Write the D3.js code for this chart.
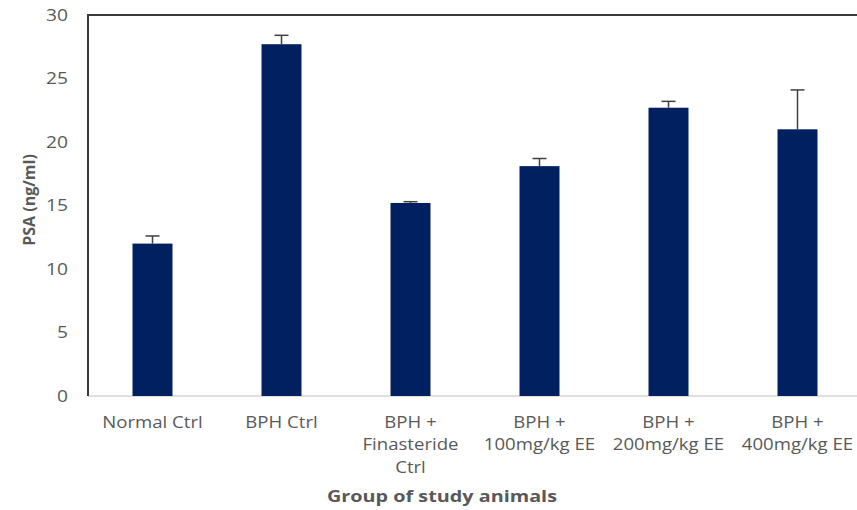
<!DOCTYPE html>
<html>
<head>
<meta charset="utf-8">
<script src="https://cdn.jsdelivr.net/npm/d3@7"></script>
<style>
  html, body { margin: 0; padding: 0; background: #fff; }
  svg { display: block; }
</style>
</head>
<body>
<div id="chart"></div>
<script>
// Serum PSA by study group, mean with error bars
const categories = [
  ["Normal Ctrl"],
  ["BPH Ctrl"],
  ["BPH +", "Finasteride", "Ctrl"],
  ["BPH +", "100mg/kg EE"],
  ["BPH +", "200mg/kg EE"],
  ["BPH +", "400mg/kg EE"]
];
const psaMean = [12.0, 27.7, 15.2, 18.1, 22.7, 21.0];
const psaError = [0.6, 0.7, 0.1, 0.6, 0.5, 3.1];
const yTicks = [0, 5, 10, 15, 20, 25, 30];

const W = 857, H = 510;
const plotLeft = 88, plotTop = 15, plotBottom = 396, plotRight = 862;

const svg = d3.select("#chart").append("svg")
  .attr("width", W).attr("height", H);

const keys = categories.map(c => c.join(" "));
const x = d3.scaleBand().domain(keys).range([plotLeft, plotRight])
  .paddingInner(0.69).paddingOuter(0.345);
const y = d3.scaleLinear().domain([0, 30]).range([plotBottom, plotTop]);

const labelColor = "#595959";
const font = "'Open Sans', 'Liberation Sans', sans-serif";
const stretch = 1.2; // wide lettering

// y tick labels
const yl = svg.append("g");
yTicks.forEach(v => {
  yl.append("text")
    .attr("transform", `translate(68,${y(v)}) scale(${stretch},1)`)
    .attr("text-anchor", "end")
    .attr("dy", "0.35em")
    .attr("fill", labelColor)
    .style("font-family", font)
    .style("font-size", "16px")
    .text(d3.format("d")(v));
});

// baseline
svg.append("line")
  .attr("x1", plotLeft).attr("x2", W)
  .attr("y1", y(0)).attr("y2", y(0))
  .attr("stroke", "#bfbfbf").attr("stroke-width", 1.2);

// left and top frame lines
svg.append("line")
  .attr("x1", plotLeft).attr("x2", plotLeft)
  .attr("y1", y(30)).attr("y2", y(0))
  .attr("stroke", "#3a3a3a").attr("stroke-width", 2);
svg.append("line")
  .attr("x1", plotLeft - 1).attr("x2", W)
  .attr("y1", y(30)).attr("y2", y(30))
  .attr("stroke", "#3a3a3a").attr("stroke-width", 2);

// bars
svg.append("g").selectAll("rect")
  .data(psaMean)
  .join("rect")
  .attr("x", (d, i) => x(keys[i]))
  .attr("width", x.bandwidth())
  .attr("y", d => y(d))
  .attr("height", d => y(0) - y(d))
  .attr("fill", "#002060");

// error bars (upper)
const err = svg.append("g").attr("stroke", "#404040").attr("stroke-width", 1.5);
psaMean.forEach((m, i) => {
  const cx = x(keys[i]) + x.bandwidth() / 2;
  err.append("line")
    .attr("x1", cx).attr("x2", cx)
    .attr("y1", y(m)).attr("y2", y(m + psaError[i]));
  err.append("line")
    .attr("x1", cx - 7).attr("x2", cx + 7)
    .attr("y1", y(m + psaError[i])).attr("y2", y(m + psaError[i]));
});

// category labels
const xl = svg.append("g");
categories.forEach((lines, i) => {
  const cx = x(keys[i]) + x.bandwidth() / 2;
  const t = xl.append("text")
    .attr("transform", `translate(${cx},428) scale(${stretch},1)`)
    .attr("text-anchor", "middle")
    .attr("fill", labelColor)
    .style("font-family", font)
    .style("font-size", "15.5px");
  lines.forEach((ln, j) => {
    t.append("tspan").attr("x", 0).attr("dy", j === 0 ? 0 : 22.5).text(ln);
  });
});

// axis titles
svg.append("text")
  .attr("transform", `translate(442,502) scale(${stretch},1)`)
  .attr("text-anchor", "middle")
  .attr("fill", labelColor)
  .style("font-family", font)
  .style("font-size", "16.5px")
  .style("font-weight", "bold")
  .text("Group of study animals");

svg.append("text")
  .attr("transform", "translate(35,200) rotate(-90)")
  .attr("text-anchor", "middle")
  .attr("fill", labelColor)
  .style("font-family", font)
  .style("font-size", "16px")
  .style("font-weight", "bold")
  .text("PSA (ng/ml)");
</script>
</body>
</html>
